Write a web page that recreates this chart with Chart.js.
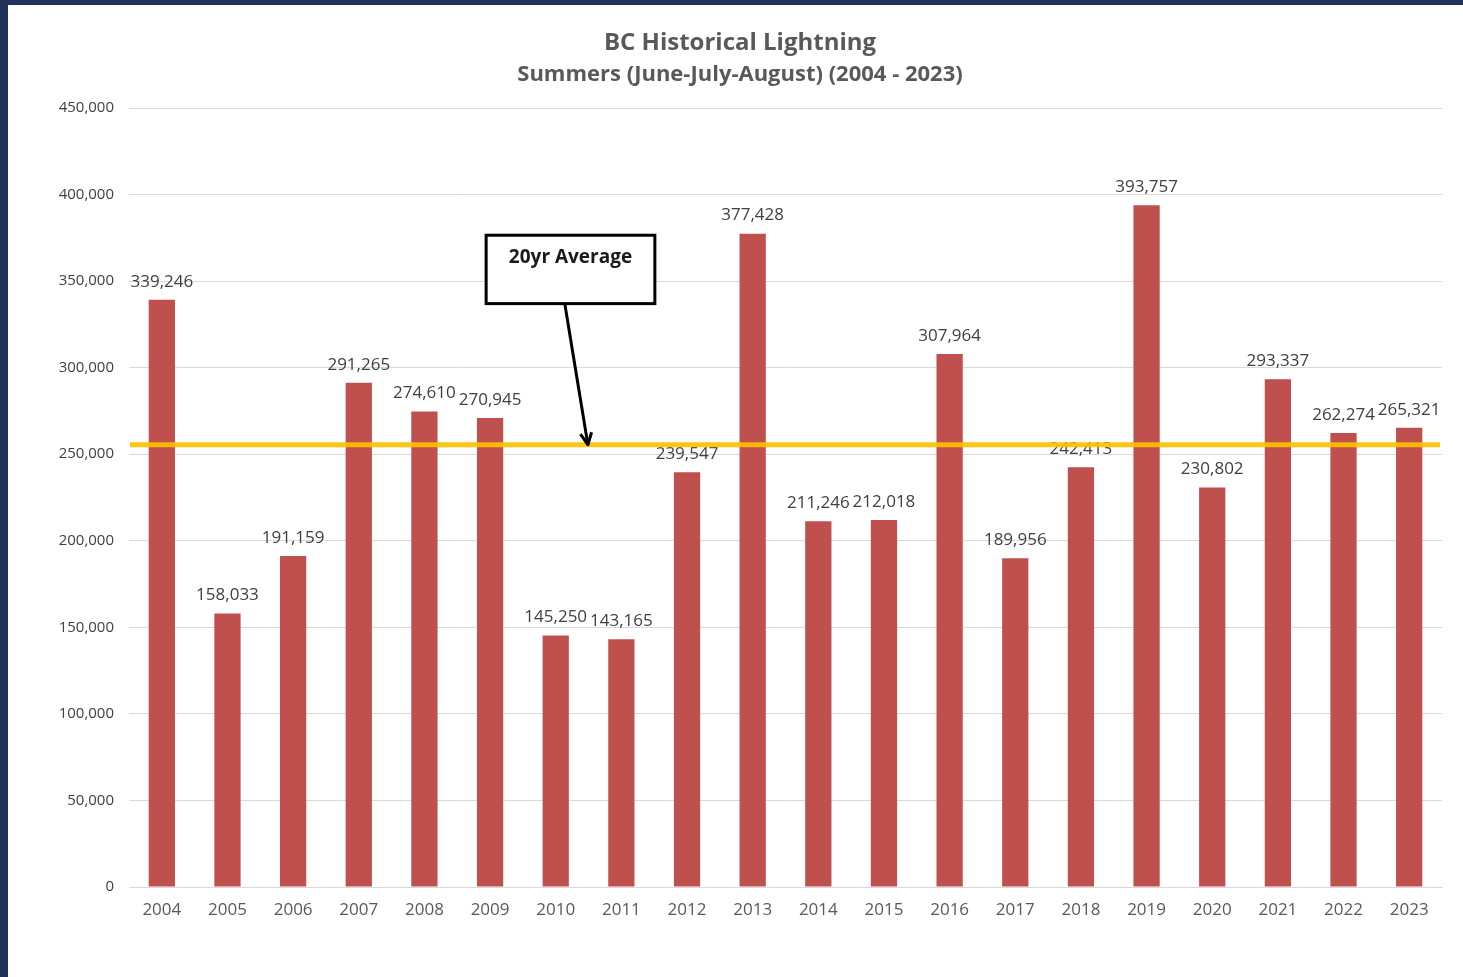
<!DOCTYPE html>
<html>
<head>
<meta charset="utf-8">
<script src="https://cdn.jsdelivr.net/npm/chart.js@4/dist/chart.umd.min.js"></script>
<style>
    html, body { margin: 0; padding: 0; }
    body { background: #1f3257; width: 1463px; height: 977px; overflow: hidden; }
    #wrap { position: absolute; left: 8px; top: 5px; width: 1455px; height: 972px; background: #fff; }
</style>
</head>
<body>
<div id="wrap"><canvas id="lightningChart"></canvas></div>
<script>
const years = ["2004", "2005", "2006", "2007", "2008", "2009", "2010", "2011", "2012", "2013",
    "2014", "2015", "2016", "2017", "2018", "2019", "2020", "2021", "2022", "2023"];
const strikes = [339246, 158033, 191159, 291265, 274610, 270945, 145250, 143165, 239547, 377428,
    211246, 212018, 307964, 189956, 242413, 393757, 230802, 293337, 262274, 265321];
const yTicks = [0, 50000, 100000, 150000, 200000, 250000, 300000, 350000, 400000, 450000];
const AVERAGE = 255500;

// annotation box / arrow, in data units (category index, value)
const NOTE_TEXT = "20yr Average";
const NOTE_BOX = { x0: 4.94, x1: 7.51, y0: 376500, y1: 337000 };
const NOTE_ARROW = { x0: 6.14, y0: 336500, x1: 6.49 };

const FONT = "'Open Sans', Lato, sans-serif";
const fmt = (v) => v.toLocaleString("en-US");

// --- Plugins ---
const titlePlugin = {
    id: "titles",
    afterDraw(chart) {
        const { ctx } = chart;
        ctx.save();
        ctx.fillStyle = "#595959";
        ctx.textAlign = "center";
        ctx.textBaseline = "middle";
        ctx.font = `bold 24px ${FONT}`;
        ctx.fillText("BC Historical Lightning", 732, 38);
        ctx.font = `bold 22px ${FONT}`;
        ctx.fillText("Summers (June-July-August) (2004 - 2023)", 732, 70);
        ctx.restore();
    },
};

const valueLabels = {
    id: "valueLabels",
    afterDatasetsDraw(chart) {
        const { ctx } = chart;
        const meta = chart.getDatasetMeta(0);
        ctx.save();
        ctx.fillStyle = "#404040";
        ctx.font = `17px ${FONT}`;
        ctx.textAlign = "center";
        ctx.textBaseline = "middle";
        meta.data.forEach((bar, i) => {
            ctx.fillText(fmt(strikes[i]), bar.x, bar.y - 18);
        });
        ctx.restore();
    },
};

const averageLine = {
    id: "averageLine",
    afterDatasetsDraw(chart) {
        const { ctx, chartArea, scales } = chart;
        const y = scales.y.getPixelForValue(AVERAGE);
        ctx.save();
        ctx.strokeStyle = "rgba(255, 192, 0, 0.92)";
        ctx.lineWidth = 5;
        ctx.beginPath();
        ctx.moveTo(chartArea.left + 1, y);
        ctx.lineTo(chartArea.right - 2, y);
        ctx.stroke();

        // note box
        const bx0 = scales.x.getPixelForValue(NOTE_BOX.x0);
        const bx1 = scales.x.getPixelForValue(NOTE_BOX.x1);
        const by0 = scales.y.getPixelForValue(NOTE_BOX.y0);
        const by1 = scales.y.getPixelForValue(NOTE_BOX.y1);
        ctx.fillStyle = "#fff";
        ctx.fillRect(bx0, by0, bx1 - bx0, by1 - by0);
        ctx.strokeStyle = "#000";
        ctx.lineWidth = 3;
        ctx.strokeRect(bx0, by0, bx1 - bx0, by1 - by0);
        ctx.fillStyle = "#1a1a1a";
        ctx.font = `bold 19px ${FONT}`;
        ctx.textAlign = "center";
        ctx.textBaseline = "middle";
        ctx.fillText(NOTE_TEXT, (bx0 + bx1) / 2, by0 + 22);

        // arrow
        const ax0 = scales.x.getPixelForValue(NOTE_ARROW.x0);
        const ay0 = scales.y.getPixelForValue(NOTE_ARROW.y0);
        const ax1 = scales.x.getPixelForValue(NOTE_ARROW.x1);
        const ay1 = y;
        const ang = Math.atan2(ay1 - ay0, ax1 - ax0);
        ctx.lineWidth = 3;
        ctx.lineJoin = "round";
        ctx.beginPath();
        ctx.moveTo(ax0, ay0);
        ctx.lineTo(ax1, ay1);
        ctx.stroke();
        ctx.beginPath();
        ctx.moveTo(ax1 - 13 * Math.cos(ang - 0.45), ay1 - 13 * Math.sin(ang - 0.45));
        ctx.lineTo(ax1, ay1);
        ctx.lineTo(ax1 - 13 * Math.cos(ang + 0.45), ay1 - 13 * Math.sin(ang + 0.45));
        ctx.stroke();
        ctx.restore();
    },
};

// --- Chart ---
new Chart(document.getElementById("lightningChart"), {
    type: "bar",
    data: {
        labels: years,
        datasets: [{
            label: "Lightning strikes",
            data: strikes,
            backgroundColor: "#c0504d",
            barPercentage: 0.4,
            categoryPercentage: 1,
        }],
    },
    options: {
        responsive: true,
        maintainAspectRatio: false,
        animation: false,
        layout: { padding: { top: 103, right: 21, left: 0, bottom: 0 } },
        plugins: {
            legend: { display: false },
            tooltip: { enabled: false },
        },
        scales: {
            x: {
                grid: { display: false, drawTicks: false },
                border: { display: true, color: "#d9d9d9" },
                ticks: { color: "#595959", font: { size: 17, family: FONT }, padding: 13 },
                afterFit: (s) => { s.height = 90; },
            },
            y: {
                min: 0,
                max: 450000,
                afterBuildTicks: (s) => { s.ticks = yTicks.map((v) => ({ value: v })); },
                grid: { color: "#d9d9d9", drawTicks: false },
                border: { display: false },
                ticks: {
                    color: "#404040",
                    font: { size: 15, family: FONT },
                    padding: 15,
                    callback: (v) => fmt(v),
                },
                afterFit: (s) => { s.width = 121; },
            },
        },
    },
    plugins: [titlePlugin, valueLabels, averageLine],
});
</script>
</body>
</html>
